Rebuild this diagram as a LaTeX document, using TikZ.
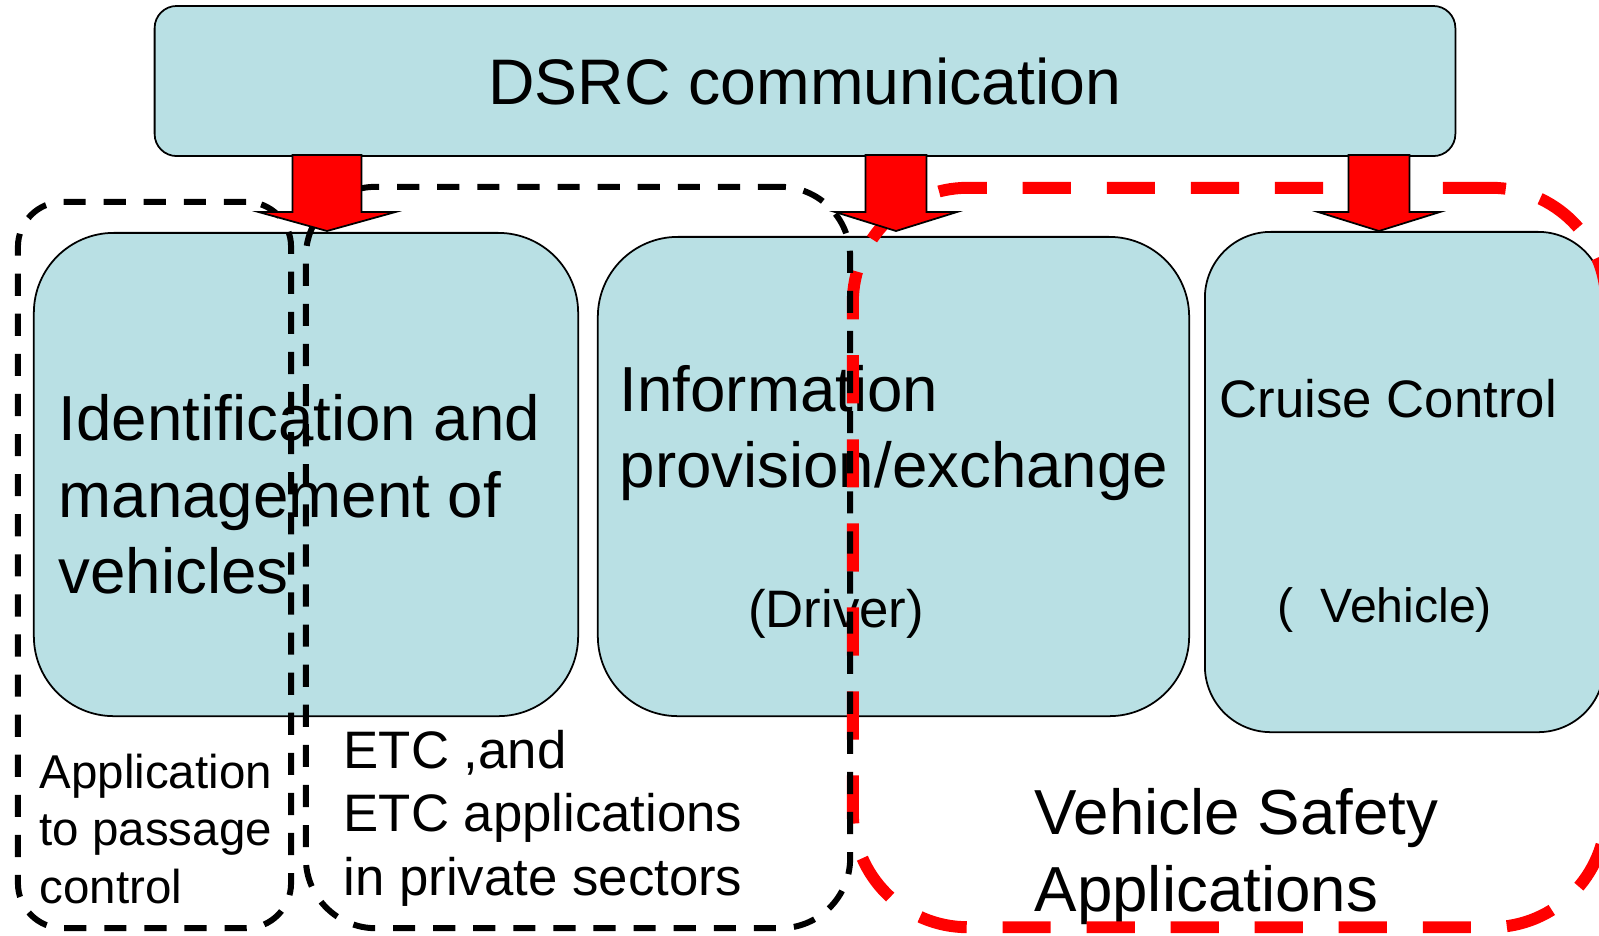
\documentclass[tikz,border=0pt]{standalone}
\usepackage{fontspec}
\setmainfont{Liberation Sans}
\usetikzlibrary{calc}
\definecolor{boxblue}{RGB}{185,224,228}
\definecolor{arrowred}{RGB}{255,0,0}
\tikzset{
  appbox/.style={draw=black, line width=0.5pt, fill=boxblue, rounded corners=#1, inner sep=0pt},
  areabox/.style={draw=black, line width=1.7pt, dash pattern=on 6.3pt off 5.1pt, rounded corners=#1, inner sep=0pt},
  safebox/.style={draw=arrowred, line width=3.4pt, dash pattern=on 13.7pt off 10.2pt, rounded corners=#1, inner sep=0pt},
  bigtext/.style={font=\fontsize{18.1pt}{21.7pt}\selectfont, align=left, inner sep=0pt, anchor=base west},
  midtext/.style={font=\fontsize{15pt}{18pt}\selectfont, align=left, inner sep=0pt, anchor=base west},
  smalltext/.style={font=\fontsize{13.5pt}{16.4pt}\selectfont, align=left, inner sep=0pt, anchor=base west},
  blockarrow/.style={fill=arrowred, draw=black, line width=0.5pt, line join=miter}
}
% #1 tip, #2 half width of shaft, #3 half width of head
\newcommand{\bigdown}[3]{%
  \filldraw[blockarrow] (#1) -- ++(-#3,-19) -- ++(#3-#2,0) -- ++(0,-57)
    -- ++(2*#2,0) -- ++(0,57) -- ++(#3-#2,0) -- cycle;}
\begin{document}
\begin{tikzpicture}[x=0.01cm, y=-0.01cm]
  \useasboundingbox (0,0) rectangle (1599,935);

  % boxes
  \node[appbox=0.22cm, minimum width=13cm, minimum height=1.5cm] (dsrc) at (805,81) {};
  \node[appbox=0.8cm, minimum width=5.44cm, minimum height=4.83cm] (ident) at (306,474.5) {};
  \node[appbox=0.8cm, minimum width=5.91cm, minimum height=4.79cm] (info) at (893.5,476.5) {};
  \node[appbox=0.66cm, minimum width=3.99cm, minimum height=5cm] (cruise) at (1404.5,482) {};

  % texts (base = last line)
  \node[font=\fontsize{18.3pt}{21.7pt}\selectfont] (dsrctext) at (dsrc) {DSRC communication};
  \node[bigtext] (identtext) at (58,593.5) {Identification and\\management of\\vehicles};
  \node[bigtext] (infotext) at (619,487.5) {Information\\provision/exchange};
  \node[midtext, anchor=base] (drivertext) at (836,627) {(Driver)};
  \node[midtext] (cruisetext) at (1219,417) {Cruise Control};
  \node[font=\fontsize{13.7pt}{17pt}\selectfont, inner sep=0pt, anchor=base west] (vehicletext) at (1277,622) {(\ \ Vehicle)};
  \node[smalltext] (passtext) at (39,903.5) {Application\\to passage\\control};
  \node[midtext] (etctext) at (343,895) {ETC ,and\\ETC applications\\in private sectors};
  \node[bigtext] (safetext) at (1034,911) {Vehicle Safety\\Applications};

  % application areas
  \node[safebox=1.15cm, minimum width=7.53cm, minimum height=7.39cm] (safearea) at (1229.5,557.5) {};
  \node[areabox=0.45cm, minimum width=2.73cm, minimum height=7.26cm] (passarea) at (154.5,565) {};
  \node[areabox=0.7cm, minimum width=5.44cm, minimum height=7.41cm] (etcarea) at (578,557.5) {};

  % arrows
  \coordinate (tip1) at ($(ident.north)+(21,-1)$);
  \coordinate (tip2) at ($(info.north)+(2.5,-5)$);
  \coordinate (tip3) at ($(cruise.north)+(-25.5,0)$);
  \bigdown{tip1}{34.5}{68.5}
  \bigdown{tip2}{30.5}{61}
  \bigdown{tip3}{30.5}{61}
\end{tikzpicture}
\end{document}
